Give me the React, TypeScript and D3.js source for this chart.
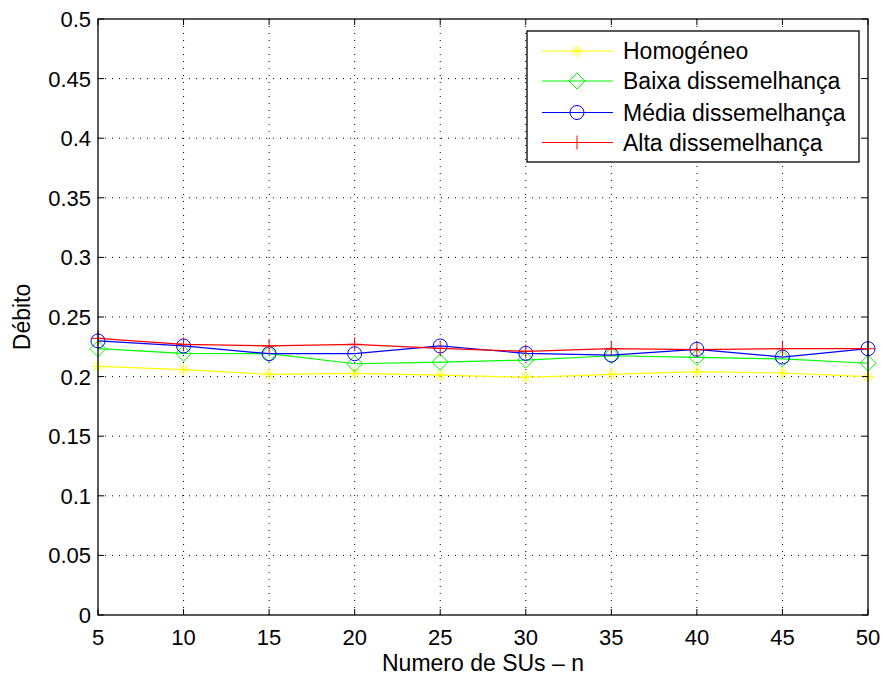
import React from "react";
import * as d3 from "d3";

const xValues = [5, 10, 15, 20, 25, 30, 35, 40, 45, 50];
const homogeneo = [0.2086, 0.2058, 0.2019, 0.2027, 0.2013, 0.1994, 0.2019, 0.2041, 0.2030, 0.1999];
const baixa = [0.2234, 0.2195, 0.2192, 0.2108, 0.2122, 0.2139, 0.2175, 0.2162, 0.2148, 0.2112];
const media = [0.2299, 0.2257, 0.2192, 0.2192, 0.2257, 0.2195, 0.2181, 0.2229, 0.2164, 0.2234];
const alta = [0.2321, 0.2271, 0.2257, 0.2271, 0.2237, 0.2212, 0.2234, 0.2226, 0.2234, 0.2234];
const seriesNames = ["Homogéneo", "Baixa dissemelhança", "Média dissemelhança", "Alta dissemelhança"];
const seriesColors = ["#ffff00", "#00ff00", "#0000ff", "#ff0000"];
const seriesMarkers = ["star", "diamond", "circle", "plus"];
const xTicks = [5, 10, 15, 20, 25, 30, 35, 40, 45, 50];
const yTicks = [0, 0.05, 0.1, 0.15, 0.2, 0.25, 0.3, 0.35, 0.4, 0.45, 0.5];
const xLabel = "Numero de SUs – n";
const yLabel = "Débito";

const W = 884, H = 676;
const L = 98, R = 868, T = 19, B = 615;
const FONT = "'Liberation Sans', Arial, Helvetica, sans-serif";

function Marker({ kind, x, y, color }: { kind: string; x: number; y: number; color: string }) {
  if (kind === "circle") return <circle cx={x} cy={y} r={7} fill="none" stroke={color} strokeWidth={1} />;
  if (kind === "diamond") {
    const s = 8;
    return <path d={`M${x},${y - s}L${x + s},${y}L${x},${y + s}L${x - s},${y}Z`} fill="none" stroke={color} strokeWidth={1} />;
  }
  if (kind === "plus") {
    const s = 7;
    return <path d={`M${x - s},${y}H${x + s}M${x},${y - s}V${y + s}`} stroke={color} strokeWidth={1} />;
  }
  const s = 6, d = 4.3;
  return (
    <path
      d={`M${x - s},${y}H${x + s}M${x},${y - s}V${y + s}M${x - d},${y - d}L${x + d},${y + d}M${x - d},${y + d}L${x + d},${y - d}`}
      stroke={color}
      strokeWidth={1}
    />
  );
}

export default function App() {
  const x = d3.scaleLinear().domain([5, 50]).range([L, R]);
  const y = d3.scaleLinear().domain([0, 0.5]).range([B, T]);
  const data = [homogeneo, baixa, media, alta];
  const line = d3
    .line<number>()
    .x((_, i) => x(xValues[i]))
    .y((v) => y(v));

  const fmt = (v: number) => String(+v.toFixed(2));
  const tick = 6;
  const legX = 527, legY = 31, legW = 332, legH = 131;
  const rowY = [51, 81, 112.5, 142.5];

  return (
    <svg width={W} height={H} style={{ position: "absolute", left: 0, top: 0, background: "#fff" }} fontFamily={FONT}>
      <rect x={0} y={0} width={W} height={H} fill="#fff" />
      {xTicks.slice(1, -1).map((t) => (
        <line key={"gx" + t} x1={x(t)} x2={x(t)} y1={T} y2={B} stroke="#000" strokeWidth={1} strokeDasharray="1,6" />
      ))}
      {yTicks.slice(1, -1).map((t) => (
        <line key={"gy" + t} x1={L} x2={R} y1={y(t)} y2={y(t)} stroke="#000" strokeWidth={1} strokeDasharray="1,6" />
      ))}
      {data.map((s, k) => (
        <g key={k}>
          <path d={line(s) || ""} fill="none" stroke={seriesColors[k]} strokeWidth={1.2} />
          {s.map((v, i) => (
            <Marker key={i} kind={seriesMarkers[k]} x={x(xValues[i])} y={y(v)} color={seriesColors[k]} />
          ))}
        </g>
      ))}
      <rect x={L} y={T} width={R - L} height={B - T} fill="none" stroke="#000" strokeWidth={1.3} />
      {xTicks.map((t) => (
        <g key={"xt" + t}>
          <line x1={x(t)} x2={x(t)} y1={B} y2={B - tick} stroke="#000" />
          <line x1={x(t)} x2={x(t)} y1={T} y2={T + tick} stroke="#000" />
          <text x={x(t)} y={645} fontSize={22} textAnchor="middle">
            {t}
          </text>
        </g>
      ))}
      {yTicks.map((t) => (
        <g key={"yt" + t}>
          <line x1={L} x2={L + tick} y1={y(t)} y2={y(t)} stroke="#000" />
          <line x1={R} x2={R - tick} y1={y(t)} y2={y(t)} stroke="#000" />
          <text x={91} y={y(t)} dy="0.36em" fontSize={22} textAnchor="end">
            {fmt(t)}
          </text>
        </g>
      ))}
      <text x={(L + R) / 2} y={671} fontSize={23} textAnchor="middle">
        {xLabel}
      </text>
      <text transform={`translate(30,${(T + B) / 2}) rotate(-90)`} fontSize={23} textAnchor="middle">
        {yLabel}
      </text>
      <rect x={legX} y={legY} width={legW} height={legH} fill="#fff" stroke="#000" strokeWidth={1.3} />
      {seriesNames.map((n, k) => (
        <g key={n}>
          <line x1={542} x2={613} y1={rowY[k]} y2={rowY[k]} stroke={seriesColors[k]} strokeWidth={1.2} />
          <Marker kind={seriesMarkers[k]} x={577} y={rowY[k]} color={seriesColors[k]} />
          <text x={623} y={rowY[k]} dy="0.36em" fontSize={23}>
            {n}
          </text>
        </g>
      ))}
    </svg>
  );
}
